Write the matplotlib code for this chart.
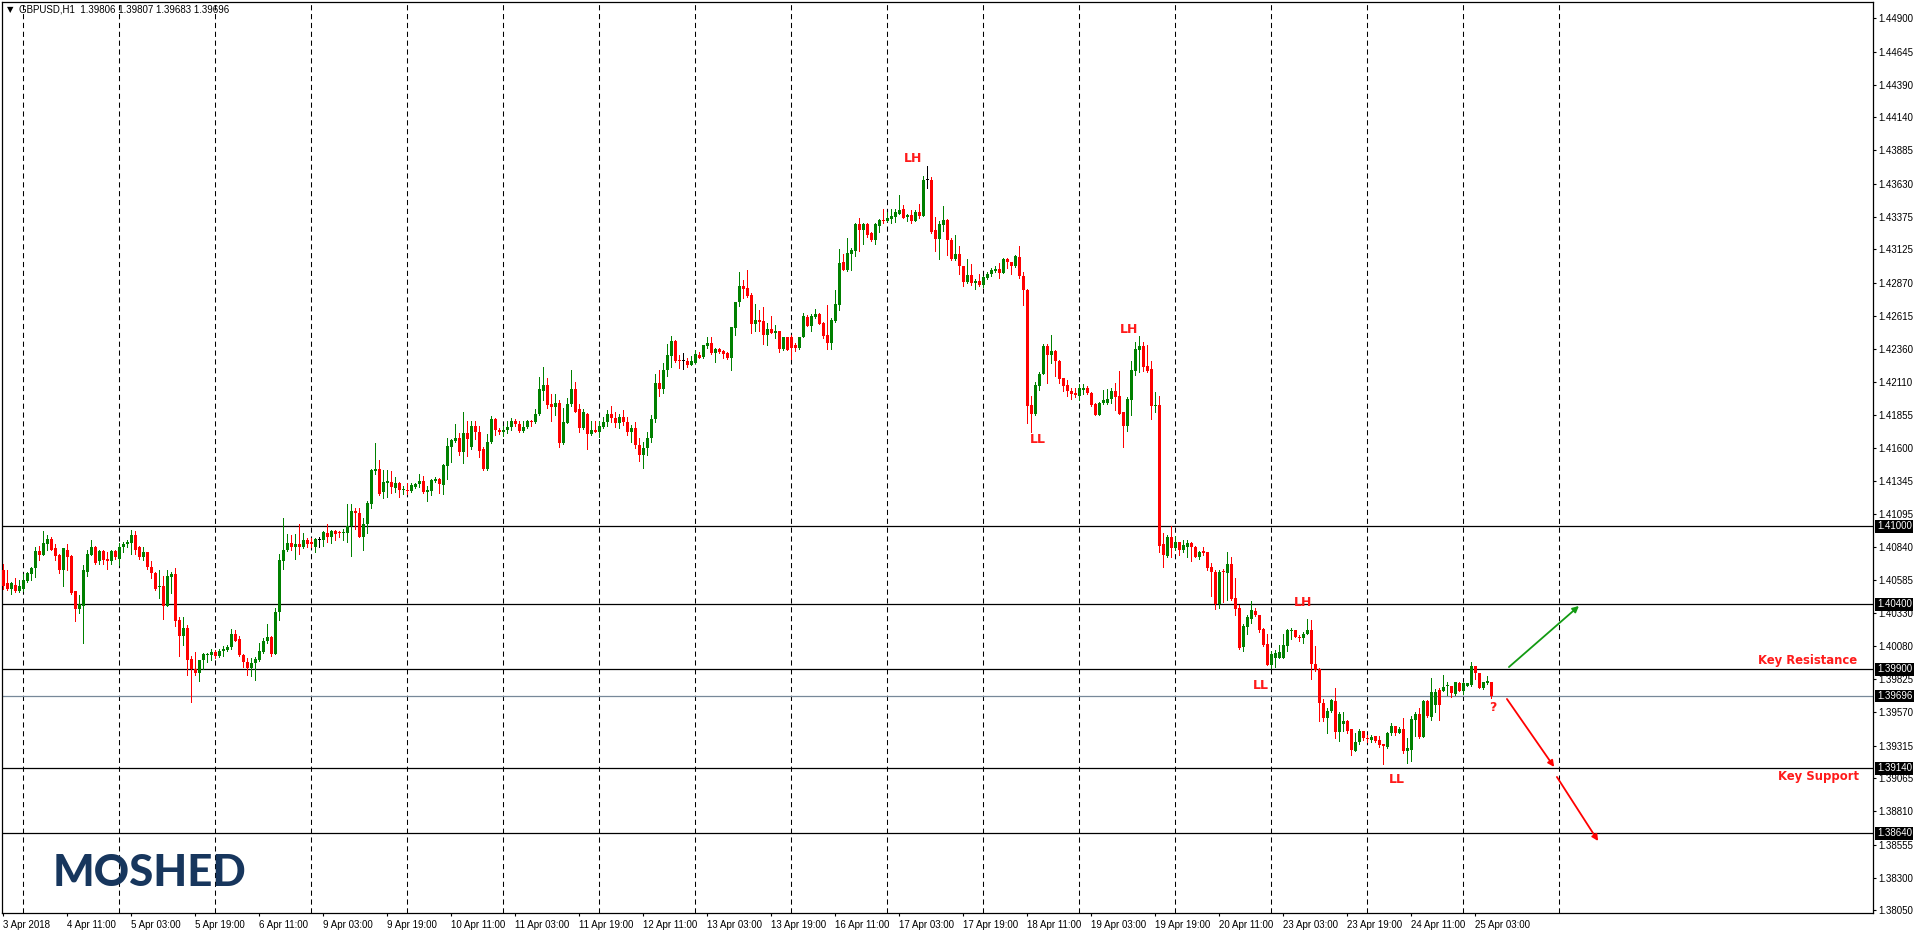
import matplotlib
matplotlib.use('Agg')
import matplotlib.pyplot as plt
import numpy as np
from matplotlib.transforms import blended_transform_factory

# ---------------- DATA (GBPUSD H1, pips above 1.3800) ----------------
BASE = 1.38
opens = [
266,256,252,255,250,252,258,263,268,281,278,286,290,283,278,266,282,277,250,236,239,265,278,284,
273,281,275,273,281,275,284,286,287,293,284,276,280,269,264,253,254,239,261,263,228,216,222,198,
190,187,197,201,201,203,200,204,205,207,217,213,201,196,191,195,197,203,212,215,202,234,273,282,
287,284,286,284,289,288,284,289,289,295,292,296,295,294.5,295,300,312,310,292,302,317,342,344,326,
333.5,334,329.5,333,327.5,328,327,330,332,334.5,326,327,335,336.5,331.5,346.5,360.5,365.5,368,357,371.5,361,377,372,
359,344,364.5,382.5,374,372,374,376,380.5,378.5,373,376,381,380,386,404,408.5,393.5,391.5,394.5,363.5,379.5,393.5,405.5,
390,375,386.5,370.5,374,372.5,376.5,380,386.5,383,379,384,380,372,375,362,355,360,368,382,410,405,420,431,
442,427,427,427,424,425,431.5,430,438,441,433,436,434.5,433,429,452,472,484.5,483,477.5,455.5,458.5,457.5,447,
451.5,448.5,449.5,436,445,445,439,436.5,445,461,453.5,461,463,456,447,440.5,457.5,470,503,497,509,511.5,532,527.5,
532,525.5,519.5,530.5,535,534.5,536,537.5,539.5,543.5,537.5,539,534.5,541.5,538.5,566,566,527.5,520.5,531.5,535,520,505,509,
500,487.5,492.5,487,488.5,485,490.5,494,496,497.5,494.5,505,502.5,499.5,507,492,481.5,393,386,408,416.5,438,431.5,434.5,
427,413.5,408.5,404,402,400,404.5,406,402,393.5,385,394.5,394.5,398,403.5,400,387.5,377,397,419.5,435.5,438.5,423,421,
392,393,286,277,291.5,283.5,287.5,281.5,284,287,284,276,281,280,268.5,265,240,265,264,271,244.5,237,207.5,222.5,
229,235,231.5,221,209.5,193,199,199,199,208,219.5,220,215,214,217.5,220,194.5,190,164.5,153,158,165.5,142,148,
150.5,144,127.5,134,142.5,137.5,135.5,138.5,135.5,132.5,130.5,141,146.5,141.5,144,127,128,151.5,155.5,138,165.5,153.5,162.5,174,
173.5,177,177,171,179.5,173.5,177.5,178,192.5,187,176,179.5,180.6]
highs = [
271,266,257,260,259,263,265,269,284,285,296,293,292,286,279,283,286,277.5,250.5,247,270,282,289,285,
282,282,280,282,282,287,288,289,297,296,284.5,284,280.5,273,264.5,266,262,266,265,268,230,230,224,200,
203,197.5,202.5,202.5,206,205,206,208,209,221,220,216,202,199,199,199.5,210,214,225,215.5,237,279,306,294,
293,294,302,295,291,291,291,292,296.5,302,297,297,296,298,317,317,314,314,306,319,344,364,351,343,
343.5,342.5,338,334,331,333,333,333.5,340,338.5,331,336,337.5,337,348,368,367,378.5,371.5,387.5,380.5,380.5,380.5,377,
360.5,370.5,384.5,383,375.5,377,380.5,383,382.5,380.5,380.5,381.5,381.5,390,414.5,422.5,414,401.5,401.5,397,390.5,398.5,420,411,
393.5,390,387,380.5,380.5,380.5,383.5,389,392,388,386,389,384,378,380,368,365,372,385,417,420,425,440,446,
443,431.5,433,429,430.5,435.5,434,439,445,445,437,436.5,435.5,434,453,472.5,495.5,489,496.5,479,470.5,466,468.5,456,
461.5,454.5,450,445.5,445.5,447,441,445.5,463.5,462.5,463,466.5,463.5,456.5,469.5,459.5,481,513,509,521,513.5,532.5,537,533,
532.5,526,532.5,536,543.5,541,543.5,543.5,554.5,546.5,539.5,543,542.5,547.5,569,576.5,568.5,537.5,534.5,546,536,521,523.5,515,
500,505,501.5,489.5,493.5,492,495,498,500,502,506,506,503,508.5,515,495,482,400,410.5,418,439.5,439.5,447,435.5,
427.5,414,412.5,406,406,409.5,409.5,408,403,394.5,395,404.5,405.5,406,410,419,388,399.5,427,441.5,446,441.5,439,427,
403,400,294.5,293,300,292.5,288,289,289,288,285,281,284,280.5,272,266,266.5,267,280.5,276.5,260.5,239.5,225,232,
242.5,237,232,221.5,217.5,204,205,208.5,217.5,221,221.5,220.5,216.5,219,229,228,208,191,167,160,167,175.5,157,157,
151,144.5,141,144,143,139.5,139.5,138.5,138.5,133,142,148.5,146.5,145.5,152.5,137,154.5,157.5,160,166.5,166.5,183.5,175,175.5,
185.5,180,177.5,180.5,180,180,179.5,196,192.5,187.5,180.5,185,180.7]
lows = [
252,251,248,249.5,249.5,250,257,259,261,274,278,282,281.5,274,264,254,266,248,227,233,210,262,278,271,
271,271,267,271,275,270,280,284,279,279,275,274,267,260,251,245,229,238.5,249,223,200,209,186,165,
186,181,190,196,197,199,199.5,200,204,206,211.5,200,192,186,185,182,196.5,202.5,210,200,201.5,228,267,281,
282,275,279,283,284,284,280,284,285,288,287,289,292,289,288,277,298,291.5,282,295,314,340,324,322,
322.5,325.5,326.5,322.5,324.5,324.5,326.5,329,330,325.5,319,324,334,325.5,324.5,336.5,349,365,354.5,348.5,354,359.5,367,353,
343.5,343.5,364,370,370.5,369.5,371.5,374,377,372,372,375,377,379.5,385,397,390.5,381,385.5,360.5,363,379,392.5,387.5,
372,374.5,359,370,372,368.5,375.5,377,380,376,375,378,370,365,360,350,345,355,365,380,400,402,415,422.5,
426,421.5,420.5,422.5,424,425,429,429,436.5,432,426,433,429.5,428.5,420,447,469,475.5,476,448.5,450,450,440,439,
448,444.5,434,435.5,435,428.5,434.5,436,445,453.5,450,459.5,455,444.5,436,436,457,466,496.5,496,497,507.5,511.5,517,
522,519,517,526,532.5,534,533,533.5,539.5,536.5,534,533,534,537,538.5,560,525.5,511.5,505.5,526.5,508.5,504.5,504.5,493.5,
484.5,486.5,485.5,482,484.5,484,489.5,492,495.5,490.5,494.5,498,493.5,499,490.5,470,379.5,372.5,385.5,404.5,416.5,410,425,415.5,
410,404,400,397.5,399.5,396.5,401.5,401.5,392.5,385,385,393.5,394,394.5,389,386,360.5,373,385,416,418,419.5,418.5,382.5,
388,280.5,269,276,276.5,281.5,278,280.5,276.5,273.5,276,274.5,277.5,266,246,236.5,237.5,242,243.5,243.5,232,205.5,204.5,217,
225.5,231,219,208,193,191,191.5,199,199,204.5,213.5,214.5,212,210.5,217,182.5,189,150.5,150.5,141.5,157.5,137.5,135,143,
141.5,124,127.5,133,135.5,134.5,134.5,134.5,130.5,117,130,140,140,141,126,118.5,119.5,138.5,137,138,153.5,151,157.5,151.5,
173.5,170.5,169,170.5,173.5,171,177.5,177.5,182.5,176,175,178.5,168.3]
closes = [
254,252,256,250,254,259,264,268,281,278,287,290,282,277,266,283,276,249,236,240,266,279,284,272,
281,274,273,281,276,284,286,287.5,293,282,276,280,269,264,252,254,239,262,263,227,216,222,197,190,
187,197,202,202,203,200,204,206,207,217,212,201,196,191,195,198,204,212,215,202,234,274,282,287,
284,286,284,289,286,286.5,290,289,295.5,292,296,294,294.5,295,300,312,310,292,302,318,343,344,325,334,
334.5,330,333,327.5,328,327,331.5,332.5,334.5,326,328,335.5,336.5,332,347,361.5,366,368,357,371.5,367,377,372,358,
344,364.5,382.5,374,372,374,376.5,380.5,378.5,373,376.5,380.5,380,386,405,408.5,393,391.5,394.5,363.5,380,394,405.5,388,
375,387.5,370.5,374,372.5,377,380,386.5,383,379,384,380,372,375,362,355,360,368,382,410,405,420,431.5,442,
426.5,426.5,427,424,427,432,429.5,439,441,433,436,433.5,432,429,453,472.5,484.5,482,477,455.5,458.5,457,447,451.5,
448.5,450,436,445,435.5,437,437,445,461.5,453.5,461.5,463,455.5,446,441,458.5,470.5,502,497,509.5,512,532,527.5,532,
523.5,519.5,532,535,534.5,537,538.5,541,543,537,539,534.5,541.5,538.5,566,566,526,520.5,532,535,519.5,505,509,499.5,
487.5,492.5,486.5,488.5,485,491,494,496.5,497.5,494.5,505,502.5,499.5,507.5,492,481,392.5,386,408.5,417,438.5,431.5,434.5,426.5,
413,408,403.5,401.5,400.5,406,406,402,393,385,394.5,396.5,398,403.5,399.5,386.5,377,398,420,436,438.5,422.5,419.5,392.5,
393,285,277.5,292,283.5,287.5,281.5,285.5,287,284,276,280.5,279.5,268,265,240,264.5,264.5,271,244,236,206.5,223,230.5,
235.5,231.5,220.5,208.5,193,201.5,202.5,203,208.5,220,220.5,214.5,214,217.5,220,194,189.5,164,153,158,166.5,142,155.5,150.5,
143,128,134,142.5,137,136.5,138,135,132,131.5,141.5,146.5,141,144,127,130,152,155.5,138,165.5,154,172.5,173,162.5,
176.5,177.5,171.5,180,173.5,179.5,179.5,192.5,187,176,180,181,169.6]

x_labels = ['3 Apr 2018', '4 Apr 11:00', '5 Apr 03:00', '5 Apr 19:00', '6 Apr 11:00',
            '9 Apr 03:00', '9 Apr 19:00', '10 Apr 11:00', '11 Apr 03:00', '11 Apr 19:00',
            '12 Apr 11:00', '13 Apr 03:00', '13 Apr 19:00', '16 Apr 11:00', '17 Apr 03:00',
            '17 Apr 19:00', '18 Apr 11:00', '19 Apr 03:00', '19 Apr 19:00', '20 Apr 11:00',
            '23 Apr 03:00', '23 Apr 19:00', '24 Apr 11:00', '25 Apr 03:00']
bars_per_label = 16
day_starts = list(range(5, 390, 24))
y_ticks = [1.44900, 1.44645, 1.44390, 1.44140, 1.43885, 1.43630, 1.43375, 1.43125,
           1.42870, 1.42615, 1.42360, 1.42110, 1.41855, 1.41600, 1.41345, 1.41095,
           1.40840, 1.40585, 1.40330, 1.40080, 1.39825, 1.39570, 1.39315, 1.39065,
           1.38810, 1.38555, 1.38300, 1.38050]
levels = [1.41000, 1.40400, 1.39900, 1.39140, 1.38640]

swing_labels = [(227.4, 1.43820, 'LH'), (258.7, 1.41662, 'LL'), (281.4, 1.42514, 'LH'),
                (324.9, 1.40410, 'LH'), (314.4, 1.39780, 'LL'), (348.4, 1.39058, 'LL'),
                (372.4, 1.39604, '?')]
zone_labels = [(463.4, 1.39972, 'Key Resistance'), (463.9, 1.39081, 'Key Support')]
arrows = [((376.4, 1.39918), (393.9, 1.40387), '#129a12'),
          ((375.9, 1.39673), (387.7, 1.39151), '#ff0000'),
          ((388.4, 1.39074), (398.7, 1.38582), '#ff0000')]

# ---------------- PLOT ----------------
o = BASE + np.array(opens) / 1e4
h = BASE + np.array(highs) / 1e4
l = BASE + np.array(lows) / 1e4
c = BASE + np.array(closes) / 1e4
n = len(c)
xs = np.arange(n)

W, H = 1916, 934
fig = plt.figure(figsize=(W / 100, H / 100), dpi=100)
fig.patch.set_facecolor('white')
ax = fig.add_axes([2.3 / W, 1 - 913 / H, (1873 - 2.3) / W, (913 - 1.5) / H])
ax.set_xlim(-0.2575, 467.42)
ax.set_ylim(1.380293, 1.45029)

for d in day_starts:
    ax.axvline(d, color='black', lw=0.75, linestyle=(0, (5, 3.5)), zorder=1)

for lv in levels:
    ax.axhline(lv, color='black', lw=0.9, zorder=2)
ax.axhline(c[-1], color='#778899', lw=0.9, zorder=2)

cols = np.where(c > o, '#008000', np.where(c < o, '#ff0000', '#000000'))
ax.vlines(xs, l, h, colors=cols, lw=0.7, antialiased=False, zorder=3)
bottoms = np.minimum(o, c)
heights = np.maximum(np.abs(c - o), 0.00008)
ax.bar(xs, heights, width=0.68, bottom=bottoms, color=cols, linewidth=0,
       antialiased=False, zorder=4)

# axes styling
for sp in ax.spines.values():
    sp.set_color('black')
    sp.set_linewidth(0.9)
ax.yaxis.tick_right()
ax.set_yticks(y_ticks)
ax.set_yticklabels(['%.5f' % v for v in y_ticks], fontsize=7, family='Liberation Sans')
ax.tick_params(axis='y', length=2.5, width=0.8, pad=1.5, colors='black')
xt = np.arange(0, bars_per_label * len(x_labels), bars_per_label)
ax.set_xticks(xt)
ax.set_xticklabels(x_labels, fontsize=7, family='Liberation Sans', ha='left')
ax.tick_params(axis='x', length=2.5, width=0.8, pad=2.5, colors='black')

trans = blended_transform_factory(ax.transAxes, ax.transData)
for lv in levels + [c[-1]]:
    ax.text(1.0021, lv, '%.5f' % lv, transform=trans, color='white', fontsize=7,
            family='Liberation Sans', va='center', ha='left', zorder=10,
            bbox=dict(boxstyle='square,pad=0.15', fc='black', ec='none'))

for bx, py, txt in swing_labels:
    ax.text(bx, py, txt, color='#ff1a1a', fontsize=9, fontweight='bold',
            family='DejaVu Sans', ha='center', va='center', zorder=6)
for bx, py, txt in zone_labels:
    ax.text(bx, py, txt, color='#ff1a1a', fontsize=8.4, fontweight='bold',
            family='DejaVu Sans', ha='right', va='center', zorder=6)
for (x0, y0), (x1, y1), col in arrows:
    ax.annotate('', xy=(x1, y1), xytext=(x0, y0),
                arrowprops=dict(arrowstyle='-|>', color=col, lw=1.3,
                                mutation_scale=9, shrinkA=0, shrinkB=0), zorder=6)

# header and logo
fig.text(7 / W, 1 - 10 / H, '\u25bc', fontsize=6, family='DejaVu Sans', va='center', ha='left')
fig.text(19 / W, 1 - 10 / H,
         'GBPUSD,H1  %.5f %.5f %.5f %.5f' % (o[-1], h[-1], l[-1], c[-1]),
         fontsize=7, family='Liberation Sans', va='center', ha='left')
fig.text(150 / W, 1 - 873 / H, 'MOSHED', fontsize=31.5, fontweight='black', family='Lato',
         color='#17365d', ha='center', va='center')

fig.savefig('out.png', dpi=100)
